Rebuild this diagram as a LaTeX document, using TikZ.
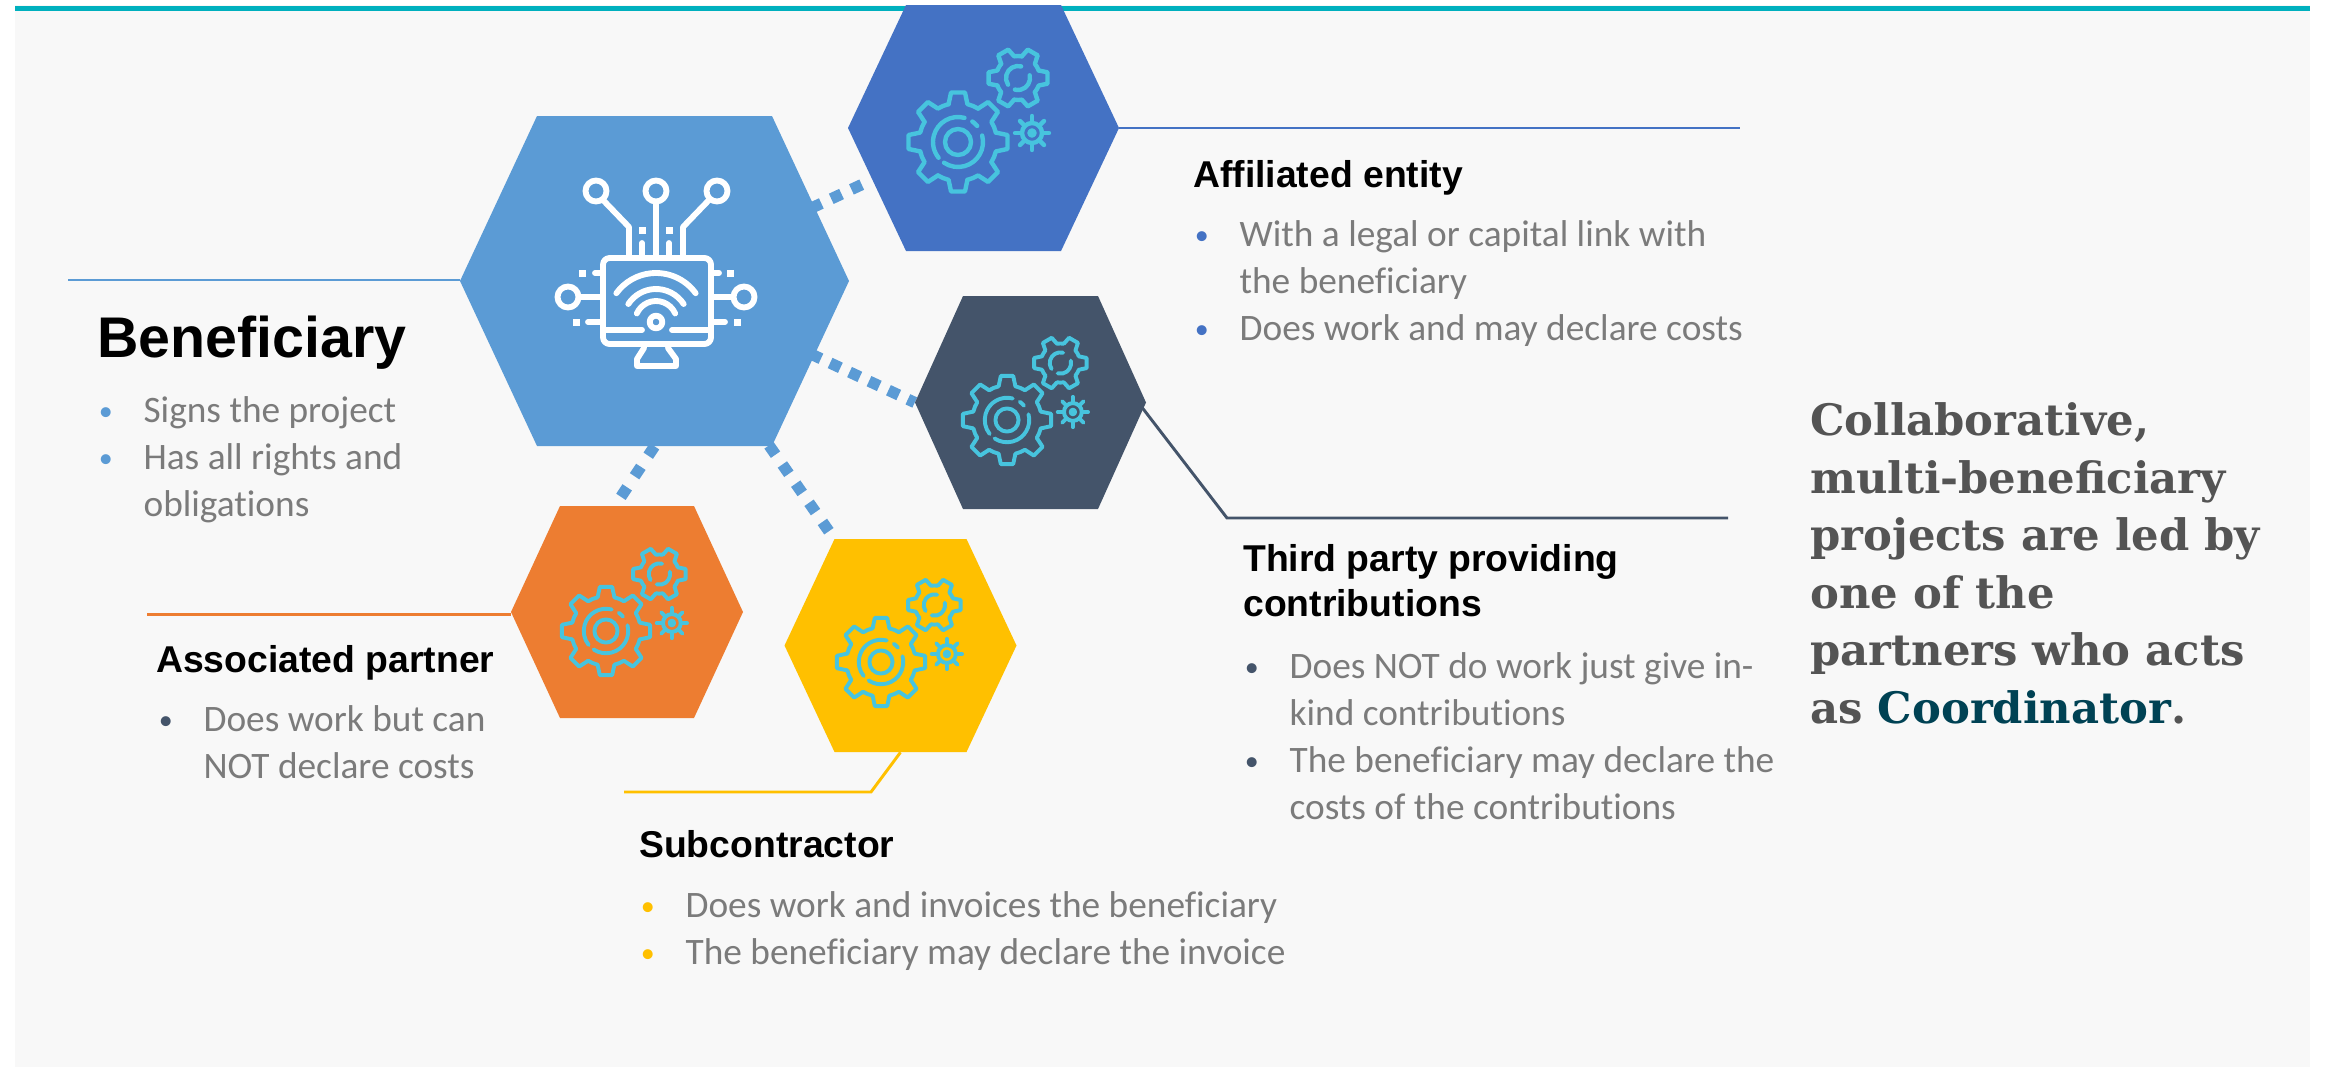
\documentclass[tikz,border=0pt]{standalone}
\usepackage{fontspec}
\setmainfont{Carlito}[Ligatures=NoCommon]
\newfontfamily\headfont{Liberation Sans}
\newfontfamily\leadfont{DejaVu Serif}
\usetikzlibrary{backgrounds}
\definecolor{panelcol}{HTML}{F8F8F8}
\definecolor{tealcol}{HTML}{00B0BE}
\definecolor{benecol}{HTML}{5B9BD5}
\definecolor{affcol}{HTML}{4472C4}
\definecolor{thirdcol}{HTML}{44546A}
\definecolor{assoccol}{HTML}{ED7D31}
\definecolor{subcol}{HTML}{FFC000}
\definecolor{gearcol}{HTML}{47C4DE}
\definecolor{bodycol}{HTML}{7B7B7B}
\definecolor{leadcol}{HTML}{545454}
\definecolor{coordcol}{HTML}{004254}
\newcommand{\bul}[1]{\strut\makebox[34pt][l]{\hspace*{0.5pt}\textcolor{#1}{\raisebox{1.5pt}{\fontsize{21}{21}\selectfont\textbullet}}}}
\newcommand{\cont}{\hspace*{34pt}}
\tikzset{
  hexnode/.style n args={4}{inner sep=0pt,minimum width=#1*0.75pt,minimum height=#2*0.75pt,
    path picture={\fill[#4] (path picture bounding box.west)
      -- ([xshift=#3*0.75pt]path picture bounding box.north west)
      -- ([xshift=-#3*0.75pt]path picture bounding box.north east)
      -- (path picture bounding box.east)
      -- ([xshift=-#3*0.75pt]path picture bounding box.south east)
      -- ([xshift=#3*0.75pt]path picture bounding box.south west) -- cycle;}},
  rule/.style={line width=2.2pt},
  dots/.style={benecol,line width=8.5pt},
  headtext/.style={anchor=base west,inner sep=0pt,align=left,font=\headfont\bfseries\fontsize{28}{33.5}\selectfont},
  blocktext/.style={anchor=north west,inner sep=0pt,align=left,text=bodycol,font=\fontsize{28}{35.25}\selectfont},
  iconline/.style={white,line width=4.4pt,line cap=round,line join=round}
}
\newcommand{\gearicon}[3]{%
  \begin{scope}[shift={(#1,#2)},scale=#3,gearcol,line width=3.3pt*#3,line cap=round,line join=round]
    \foreach \a in {0,45,...,315} {
      \draw (\a-14:39) -- (\a-8:50) -- (\a+8:50) -- (\a+14:39) arc[start angle=\a+14,end angle=\a+31,radius=39];
    }
    \draw (0,0) circle (13);
    \draw (-75:25) arc[start angle=-75,end angle=-219,radius=25];
    \draw (-15:25) arc[start angle=-15,end angle=124,radius=25];
    \draw (-40:25) arc[start angle=-40,end angle=-55,radius=25];
    \begin{scope}[shift={(60,-64)}]
      \foreach \a in {0,60,...,300} {
        \draw (\a-20:22) -- (\a-11:30) -- (\a+11:30) -- (\a+20:22) arc[start angle=\a+20,end angle=\a+40,radius=22];
      }
      \draw (-75:12) arc[start angle=-75,end angle=-214,radius=12];
      \draw (-13:12) arc[start angle=-13,end angle=105,radius=12];
    \end{scope}
    \begin{scope}[shift={(74,-9)}]
      \draw (0,0) circle (10);
      \draw (0,0) circle (2.5);
      \foreach \a in {0,45,...,315} {
        \draw (\a:10) -- (\a:17);
      }
    \end{scope}
  \end{scope}}

\begin{document}
\begin{tikzpicture}[x=0.75pt,y=-0.75pt]
\useasboundingbox (0,0) rectangle (2326,1067);

\node[hexnode={389}{330}{77}{benecol}] (ben) at (654.5,281) {};
\node[hexnode={271}{246}{58}{affcol}] (aff) at (983.5,128) {};
\node[hexnode={231}{213}{48}{thirdcol}] (third) at (1030.5,402.5) {};
\node[hexnode={232}{212}{49}{assoccol}] (assoc) at (627,612) {};
\node[hexnode={232}{213}{50}{subcol}] (sub) at (900.5,645.5) {};

\coordinate (beneEnd) at (68,280);
\coordinate (affEnd) at (1740,128);
\coordinate (thirdBend) at (1227,518);
\coordinate (thirdEnd) at (1728,518);
\coordinate (assocEnd) at (147,614.5);
\coordinate (subBend) at (871,792);
\coordinate (subEnd) at (624,792);

\begin{pgfonlayer}{background}
\fill[panelcol] (15,5) rectangle (2310,1067);
\fill[tealcol] (15,5.5) rectangle (2310,11);
\draw[rule,benecol] (beneEnd) -- (beneEnd -| ben.west);
\draw[rule,affcol] (aff.east) -- (affEnd);
\draw[rule,thirdcol] ([xshift=-6pt]third.east) -- (thirdBend) -- (thirdEnd);
\draw[rule,assoccol] (assocEnd) -- (assocEnd -| assoc.west);
\draw[rule,subcol] (sub.south) -- (subBend) -- (subEnd);
\draw[dots,dash pattern=on 8.5pt off 8.2pt,shorten <=129.5pt,shorten >=100.3pt] (ben.center) -- (aff.center);
\draw[dots,dash pattern=on 8.5pt off 7.6pt,shorten <=129.25pt] (ben.center) -- (third.west);
\draw[dots,dash pattern=on 8.5pt off 10pt] (ben.south) -- ([xshift=-9pt]assoc.north);
\draw[dots,dash pattern=on 8.5pt off 9pt,shorten <=150.25pt,shorten >=103.5pt] (ben.center) -- ([xshift=6pt]sub.center);
\end{pgfonlayer}

% monitor
\draw[iconline,rounded corners=5pt] (603,258) rectangle (711,344);
\draw[iconline] (603,330) -- (642,330);
\draw[iconline] (672,330) -- (711,330);
\draw[iconline] (644,348) -- (637,359) -- (637,366) -- (676,366) -- (676,359) -- (668,348);
\draw[iconline] (656,322) circle (6.3);
\draw[iconline] (656,322) ++(-36:49) arc[start angle=-36,end angle=-144,radius=49];
\draw[iconline] (656,322) ++(-33:33) arc[start angle=-33,end angle=-147,radius=33];
\draw[iconline] (656,322) ++(-24:21) arc[start angle=-24,end angle=-156,radius=21];
% circuit
\foreach \cx/\cy in {596/191,656/191,717/191,568/297,744/297} {
  \draw[iconline] (\cx,\cy) circle (10.5);
}
\draw[iconline] (603,200) -- (629,227) -- (629,256);
\draw[iconline] (656,202) -- (656,256);
\draw[iconline] (709,200) -- (683,227) -- (683,256);
\draw[iconline] (642,243) -- (642,256);
\draw[iconline] (669,243) -- (669,256);
\draw[iconline] (579,297) -- (603,297);
\draw[iconline] (711,297) -- (733,297);
\draw[iconline] (595,273) -- (603,273);
\draw[iconline] (711,273) -- (719,273);
\draw[iconline] (588,322) -- (603,322);
\draw[iconline] (711,322) -- (725,322);
\foreach \px/\py in {642/230,669/230,582/273,730/273,576/322,737/322} {
  \fill[white] (\px-3.5,\py-3.5) rectangle ++(7,7);
}

\gearicon{958}{142}{1}
\gearicon{1007}{420}{0.89}
\gearicon{606}{631}{0.89}
\gearicon{881}{662}{0.89}

\node[headtext,font=\headfont\bfseries\fontsize{43}{50}\selectfont] (beneHead) at (97,357) {Beneficiary};
\node[blocktext] (beneText) at (98,389) {\bul{benecol}Signs the project\\\bul{benecol}Has all rights and\\\cont obligations};
\node[headtext] (affHead) at (1193,187) {Affiliated entity};
\node[blocktext] (affText) at (1194,213) {\bul{affcol}With a legal or capital link with\\\cont the beneficiary\\\bul{affcol}Does work and may declare costs};
\node[headtext,anchor=north west] (thirdHead) at (1243,540) {\strut Third party providing\\contributions};
\node[blocktext] (thirdText) at (1244,645) {\bul{thirdcol}Does NOT do work just give in-\\\cont kind contributions\\\bul{thirdcol}The beneficiary may declare the\\\cont costs of the contributions};
\node[headtext] (assocHead) at (156,672) {Associated partner};
\node[blocktext] (assocText) at (158,698) {\bul{thirdcol}Does work but can\\\cont NOT declare costs};
\node[headtext] (subHead) at (639,857) {Subcontractor};
\node[blocktext] (subText) at (640,884) {\bul{subcol}Does work and invoices the beneficiary\\\bul{subcol}The beneficiary may declare the invoice};
\node[anchor=north west,inner sep=0pt,align=left,text=leadcol,font=\leadfont\bfseries\fontsize{32.5}{43.2}\selectfont] (leadText) at (1810,395) {\strut Collaborative,\\multi-beneficiary\\projects are led by\\one of the\\partners who acts\\as \textcolor{coordcol}{Coordinator}.};
\end{tikzpicture}
\end{document}
